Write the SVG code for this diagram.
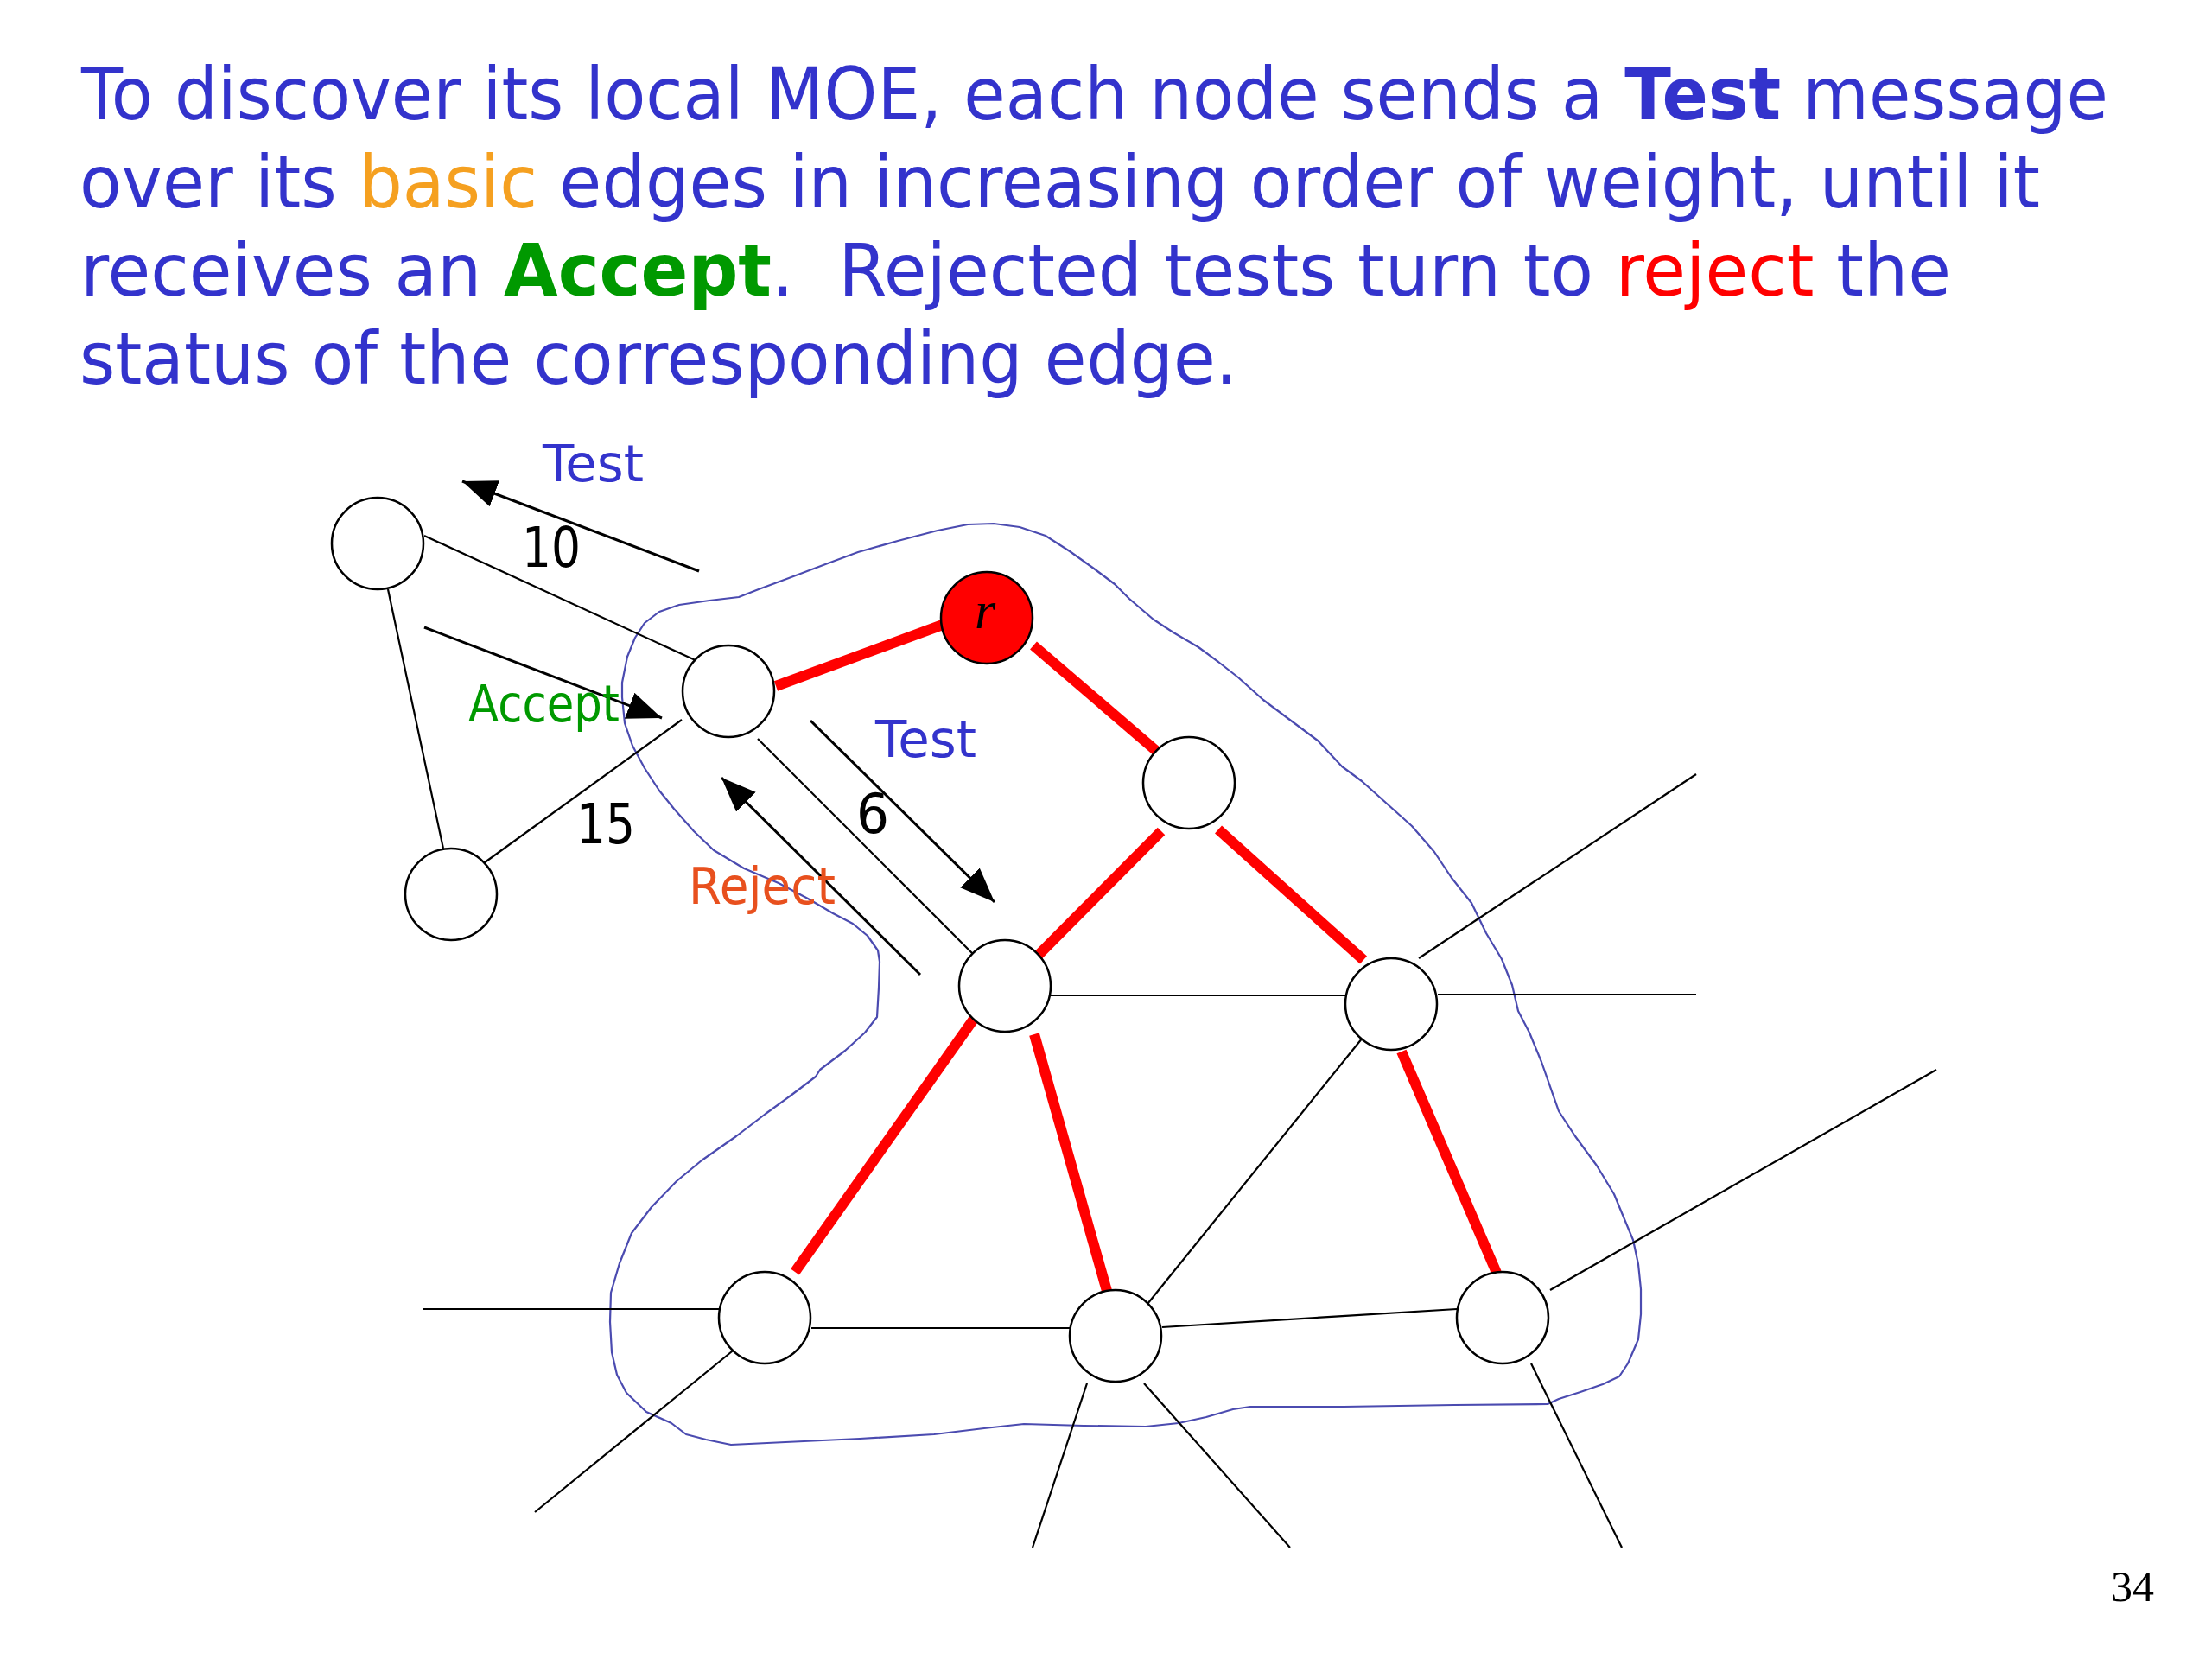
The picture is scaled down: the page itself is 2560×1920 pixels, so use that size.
<svg xmlns="http://www.w3.org/2000/svg" width="2560" height="1920" viewBox="0 0 2560 1920">
<defs>
<style>
.body{font-family:"DejaVu Sans","Liberation Sans",sans-serif;font-size:84px;fill:#3333CC}
.lbl{font-family:"DejaVu Sans","Liberation Sans",sans-serif;font-size:58px}
.num{font-family:"DejaVu Sans","Liberation Sans",sans-serif;font-size:64px;fill:#000}
.edge{stroke:#000;stroke-width:2.2;fill:none}
.tree{stroke:#FF0000;stroke-width:12;fill:none;stroke-linecap:butt}
.arrow{stroke:#000;stroke-width:3;fill:none}
.node{fill:#fff;stroke:#000;stroke-width:2.5}
</style>
<marker id="ah" markerUnits="userSpaceOnUse" markerWidth="42" markerHeight="34" refX="40" refY="16" orient="auto">
<path d="M0,0 L40,16 L0,32 z" fill="#000"/>
</marker>
</defs>
<rect width="2560" height="1920" fill="#fff"/>

<g id="title">
<text class="body" x="94" y="138" textLength="2346" lengthAdjust="spacingAndGlyphs">To discover its local MOE, each node sends a <tspan font-weight="bold">Test</tspan> message</text>
<text class="body" x="92" y="240" textLength="2269" lengthAdjust="spacingAndGlyphs">over its <tspan fill="#F5A020">basic</tspan> edges in increasing order of weight, until it</text>
<text class="body" x="93" y="342" textLength="2165" lengthAdjust="spacingAndGlyphs">receives an <tspan fill="#009900" font-weight="bold">Accept</tspan>.&#160; Rejected tests turn to <tspan fill="#FF0000">reject</tspan> the</text>
<text class="body" x="92" y="444" textLength="1340" lengthAdjust="spacingAndGlyphs">status of the corresponding edge.</text>
</g>

<g id="fragment-outline">
<path fill="none" stroke="#4B4BB0" stroke-width="2.2" stroke-linejoin="round" d="M720,790 L726,760 L735,738 L746,721 L763,708 L786,700 L821,695 L855,691 L878,682 L913,669 L958,652 L993,639 L1039,626 L1085,614 L1120,607 L1150,606 L1180,610 L1210,620 L1238,638 L1266,658 L1290,676 L1307,693 L1335,717 L1358,732 L1387,749 L1410,766 L1433,784 L1462,810 L1490,831 L1525,857 L1553,887 L1576,904 L1605,930 L1634,956 L1660,986 L1680,1016 L1703,1045 L1720,1080 L1738,1110 L1750,1140 L1757,1170 L1770,1195 L1784,1229 L1804,1286 L1823,1315 L1848,1349 L1868,1382 L1880,1411 L1890,1435 L1896,1463 L1899,1492 L1899,1521 L1896,1550 L1884,1578 L1874,1593 L1855,1602 L1829,1611 L1804,1619 L1791,1625 L1683,1626 L1555,1628 L1447,1628 L1427,1631 L1396,1640 L1364,1647 L1326,1651 L1254,1650 L1185,1648 L1139,1653 L1081,1660 L995,1665 L909,1669 L846,1672 L817,1666 L794,1660 L777,1647 L748,1634 L725,1612 L714,1591 L708,1565 L706,1530 L707,1496 L717,1462 L731,1427 L754,1397 L783,1367 L812,1343 L852,1315 L886,1289 L915,1268 L944,1246 L949,1238 L978,1216 L1001,1195 L1015,1177 L1017,1143 L1018,1113 L1016,1100 L1004,1083 L987,1069 L964,1057 L935,1040 L901,1022 L861,1005 L826,984 L803,962 L780,936 L763,915 L746,889 L732,863 L723,837 L720,807 Z"/>
</g>

<g id="connectors">
<line class="edge" x1="491" y1="620" x2="809" y2="766"/>
<line class="edge" x1="449" y1="682" x2="513" y2="982"/>
<line class="edge" x1="557" y1="1001" x2="789" y2="833"/>
<line class="edge" x1="877" y1="855" x2="1131" y2="1109"/>
<line class="edge" x1="1216" y1="1152" x2="1559" y2="1152"/>
<line class="edge" x1="1664" y1="1151" x2="1963" y2="1151"/>
<line class="edge" x1="1642" y1="1109" x2="1963" y2="896"/>
<line class="edge" x1="1581" y1="1196" x2="1324" y2="1514"/>
<line class="edge" x1="490" y1="1515" x2="832" y2="1515"/>
<line class="edge" x1="939" y1="1537" x2="1238" y2="1537"/>
<line class="edge" x1="852" y1="1560" x2="619" y2="1750"/>
<line class="edge" x1="1258" y1="1601" x2="1195" y2="1791"/>
<line class="edge" x1="1324" y1="1601" x2="1493" y2="1791"/>
<line class="edge" x1="1345" y1="1536" x2="1686" y2="1515"/>
<line class="edge" x1="1794" y1="1493" x2="2241" y2="1238"/>
<line class="edge" x1="1772" y1="1578" x2="1877" y2="1791"/>

<line class="tree" x1="898" y1="794" x2="1091" y2="723"/>
<line class="tree" x1="1196" y1="747" x2="1344" y2="874"/>
<line class="tree" x1="1344" y1="962" x2="1198" y2="1109"/>
<line class="tree" x1="1410" y1="960" x2="1578" y2="1111"/>
<line class="tree" x1="1130" y1="1175" x2="920" y2="1472"/>
<line class="tree" x1="1197" y1="1197" x2="1281" y2="1494"/>
<line class="tree" x1="1622" y1="1217" x2="1732" y2="1473"/>

<line class="arrow" x1="809" y1="661" x2="535" y2="557" marker-end="url(#ah)"/>
<line class="arrow" x1="491" y1="726" x2="766" y2="831" marker-end="url(#ah)"/>
<line class="arrow" x1="938" y1="834" x2="1151" y2="1044" marker-end="url(#ah)"/>
<line class="arrow" x1="1065" y1="1128" x2="835" y2="900" marker-end="url(#ah)"/>
</g>

<g id="node-a"><circle class="node" cx="437" cy="629" r="53"/></g>
<g id="node-b"><circle class="node" cx="843" cy="800" r="53"/></g>
<g id="node-r"><circle cx="1142" cy="715" r="53" fill="#FF0000" stroke="#000" stroke-width="2.5"/>
<text x="1140" y="727" text-anchor="middle" font-family="Liberation Serif,serif" font-style="italic" font-size="62" fill="#000">r</text></g>
<g id="node-d"><circle class="node" cx="1376" cy="906" r="53"/></g>
<g id="node-e"><circle class="node" cx="522" cy="1035" r="53"/></g>
<g id="node-f"><circle class="node" cx="1163" cy="1141" r="53"/></g>
<g id="node-g"><circle class="node" cx="1610" cy="1162" r="53"/></g>
<g id="node-h"><circle class="node" cx="885" cy="1525" r="53"/></g>
<g id="node-i"><circle class="node" cx="1291" cy="1546" r="53"/></g>
<g id="node-j"><circle class="node" cx="1739" cy="1525" r="53"/></g>

<g id="labels">
<text class="lbl" x="628" y="557" fill="#3333CC" textLength="117" lengthAdjust="spacingAndGlyphs">Test</text>
<text class="num" x="604" y="656" textLength="68" lengthAdjust="spacingAndGlyphs">10</text>
<text class="lbl" x="542" y="835" fill="#009900" textLength="175" lengthAdjust="spacingAndGlyphs">Accept</text>
<text class="num" x="667" y="976" textLength="68" lengthAdjust="spacingAndGlyphs">15</text>
<text class="lbl" x="1013" y="876" fill="#3333CC" textLength="117" lengthAdjust="spacingAndGlyphs">Test</text>
<text class="num" x="991" y="964" textLength="38" lengthAdjust="spacingAndGlyphs">6</text>
<text class="lbl" x="797" y="1046" fill="#E8501E" textLength="170" lengthAdjust="spacingAndGlyphs">Reject</text>
</g>

<text x="2443" y="1853" font-family="Liberation Serif,serif" font-size="50" fill="#000">34</text>
</svg>
